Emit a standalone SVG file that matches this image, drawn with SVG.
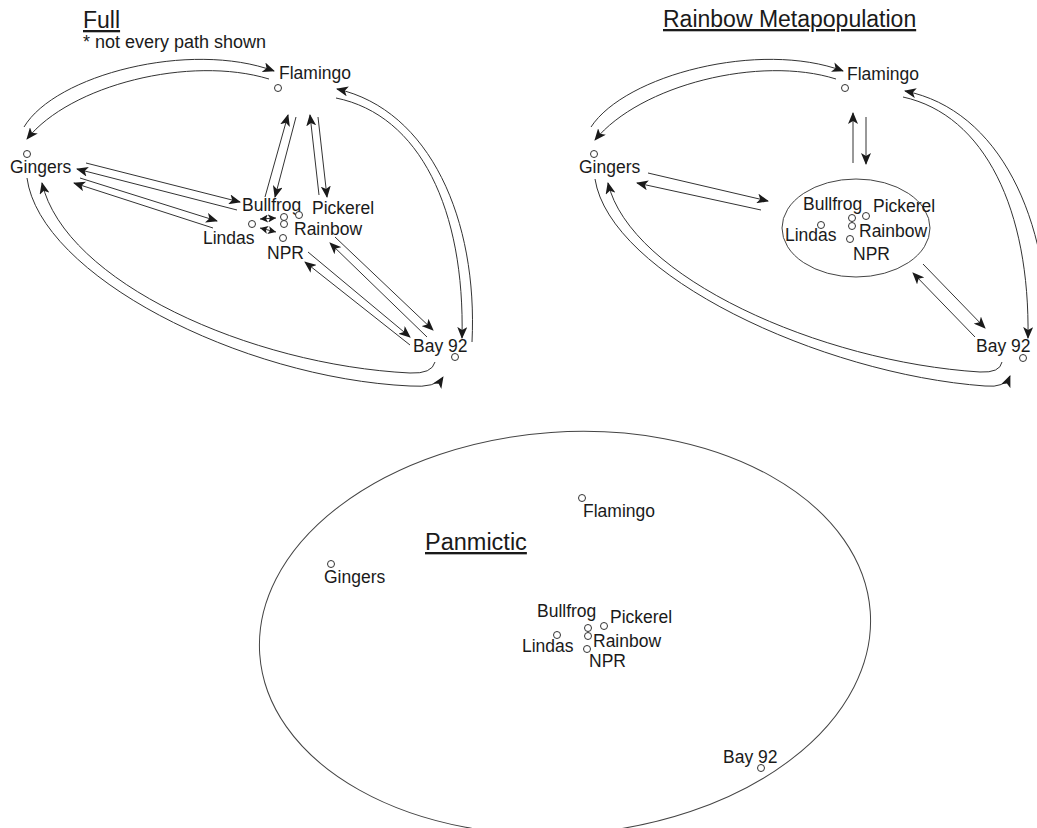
<svg xmlns="http://www.w3.org/2000/svg" width="1037" height="828" viewBox="0 0 1037 828">
<style>
  text { font-family: "Liberation Sans", Arial, sans-serif; fill: #1a1a1a; }
  .lbl { font-size: 17.5px; }
  .title { font-size: 23px; text-decoration: underline; }
  .note { font-size: 18px; }
  .pt { fill: #fff; stroke: #333; stroke-width: 1; }
  .c { fill: none; stroke: #333; stroke-width: 1; marker-end: url(#ah); }
  .s { fill: none; stroke: #333; stroke-width: 1; marker-start: url(#sm-s); marker-end: url(#sm); }
  .ring { fill: none; stroke: #444; stroke-width: 1; }
</style>
<defs>
  <marker id="ah" markerUnits="userSpaceOnUse" markerWidth="14" markerHeight="10" refX="11" refY="5" orient="auto">
    <path d="M0,0 L12,5 L0,10 L3,5 z" fill="#1a1a1a"/>
  </marker>
  <marker id="sm" markerUnits="userSpaceOnUse" markerWidth="10" markerHeight="8" refX="8" refY="4" orient="auto">
    <path d="M0,0 L8,4 L0,8 L2,4 z" fill="#1a1a1a"/>
  </marker>
  <marker id="sm-s" markerUnits="userSpaceOnUse" markerWidth="10" markerHeight="8" refX="0" refY="4" orient="auto">
    <path d="M8,0 L0,4 L8,8 L6,4 z" fill="#1a1a1a"/>
  </marker>
</defs>

<!-- ===== Full panel ===== -->
<g id="full-title">
  <text class="title" x="83" y="28">Full</text>
  <text class="note" x="83" y="48">* not every path shown</text>
</g>
<g id="connectors-full">
  <path class="c" d="M24,127 C55,75 190,40 274,71"/>
  <path class="c" d="M269,79 C190,55 70,85 27,139"/>
  <path class="c" d="M472,342 C478,220 430,110 337,89"/>
  <path class="c" d="M336,98 C420,115 465,210 462,338"/>
  <path class="c" d="M27,178 C40,275 240,378 410,386 Q436,388 443,377"/>
  <path class="c" d="M435,362 Q432,374 410,373 C250,365 65,282 42,183"/>
  <path class="c" d="M265,197 L288,115"/>
  <path class="c" d="M296,117 L275,197"/>
  <path class="c" d="M319,195 L310,115"/>
  <path class="c" d="M318,117 L327,197"/>
  <path class="c" d="M86,163 L240,202"/>
  <path class="c" d="M237,210 L77,169"/>
  <path class="c" d="M80,178 L217,221"/>
  <path class="c" d="M213,228 L74,183"/>
  <path class="c" d="M335,237 L433,330"/>
  <path class="c" d="M427,337 L330,243"/>
  <path class="c" d="M308,252 L410,337"/>
  <path class="c" d="M410,345 L305,262"/>
  <path class="s" d="M260,219 L276,218"/>
  <path class="s" d="M260,228 L276,232"/>
</g>
<g id="full-flamingo"><circle class="pt" cx="278" cy="88" r="3.5"/><text class="lbl" x="279" y="79">Flamingo</text></g>
<g id="full-gingers"><circle class="pt" cx="27" cy="154" r="3.5"/><text class="lbl" x="10" y="173">Gingers</text></g>
<g id="full-bullfrog"><circle class="pt" cx="284" cy="217" r="3.5"/><text class="lbl" x="242" y="211">Bullfrog</text></g>
<g id="full-pickerel"><circle class="pt" cx="299" cy="215" r="3.5"/><text class="lbl" x="312" y="214">Pickerel</text></g>
<g id="full-rainbow"><circle class="pt" cx="284" cy="224" r="3.5"/><text class="lbl" x="294" y="235">Rainbow</text></g>
<g id="full-lindas"><circle class="pt" cx="252" cy="224" r="3.5"/><text class="lbl" x="203" y="244">Lindas</text></g>
<g id="full-npr"><circle class="pt" cx="283" cy="238" r="3.5"/><text class="lbl" x="267" y="259">NPR</text></g>
<g id="full-bay92"><circle class="pt" cx="455" cy="357" r="3.5"/><text class="lbl" x="413" y="352">Bay 92</text></g>

<!-- ===== Rainbow Metapopulation panel ===== -->
<g id="rm-title"><text class="title" x="663" y="27">Rainbow Metapopulation</text></g>
<g id="connectors-rm">
  <path class="c" d="M591,127 C625,75 760,40 843,71"/>
  <path class="c" d="M836,79 C760,55 640,85 595,140"/>
  <path class="c" d="M1048,345 C1050,220 1000,110 905,91"/>
  <path class="c" d="M903,97 C985,115 1030,210 1028,338"/>
  <path class="c" d="M595,179 C610,275 820,374 985,386 Q1005,388 1010,376"/>
  <path class="c" d="M1002,362 Q1000,373 980,372 C820,362 630,277 608,183"/>
  <path class="c" d="M853,163 L853,113"/>
  <path class="c" d="M866,117 L866,164"/>
  <path class="c" d="M648,173 L768,201"/>
  <path class="c" d="M761,210 L637,183"/>
  <path class="c" d="M923,264 L985,328"/>
  <path class="c" d="M975,337 L913,273"/>
</g>
<g id="rm-meta"><ellipse class="ring" cx="856" cy="228" rx="74" ry="49"/></g>
<g id="rm-flamingo"><circle class="pt" cx="845" cy="88" r="3.5"/><text class="lbl" x="847" y="80">Flamingo</text></g>
<g id="rm-gingers"><circle class="pt" cx="594" cy="154" r="3.5"/><text class="lbl" x="579" y="173">Gingers</text></g>
<g id="rm-bullfrog"><circle class="pt" cx="852" cy="218" r="3.5"/><text class="lbl" x="803" y="210">Bullfrog</text></g>
<g id="rm-pickerel"><circle class="pt" cx="866" cy="216" r="3.5"/><text class="lbl" x="873" y="212">Pickerel</text></g>
<g id="rm-rainbow"><circle class="pt" cx="852" cy="226" r="3.5"/><text class="lbl" x="859" y="237">Rainbow</text></g>
<g id="rm-lindas"><circle class="pt" cx="821" cy="225" r="3.5"/><text class="lbl" x="785" y="241">Lindas</text></g>
<g id="rm-npr"><circle class="pt" cx="850" cy="239" r="3.5"/><text class="lbl" x="853" y="260">NPR</text></g>
<g id="rm-bay92"><circle class="pt" cx="1023" cy="358" r="3.5"/><text class="lbl" x="976" y="352">Bay 92</text></g>

<!-- ===== Panmictic panel ===== -->
<g id="pan-ring"><ellipse class="ring" cx="565" cy="633" rx="306" ry="201" transform="rotate(-4 565 633)"/></g>
<g id="pan-title"><text class="title" x="425" y="550" style="font-size:23.5px">Panmictic</text></g>
<g id="pan-flamingo"><circle class="pt" cx="582" cy="498" r="3.5"/><text class="lbl" x="583" y="517">Flamingo</text></g>
<g id="pan-gingers"><circle class="pt" cx="331" cy="564" r="3.5"/><text class="lbl" x="324" y="583">Gingers</text></g>
<g id="pan-bullfrog"><circle class="pt" cx="588" cy="628" r="3.5"/><text class="lbl" x="537" y="617">Bullfrog</text></g>
<g id="pan-pickerel"><circle class="pt" cx="604" cy="626" r="3.5"/><text class="lbl" x="610" y="623">Pickerel</text></g>
<g id="pan-rainbow"><circle class="pt" cx="588" cy="636" r="3.5"/><text class="lbl" x="593" y="647">Rainbow</text></g>
<g id="pan-lindas"><circle class="pt" cx="557" cy="635" r="3.5"/><text class="lbl" x="522" y="652">Lindas</text></g>
<g id="pan-npr"><circle class="pt" cx="587" cy="649" r="3.5"/><text class="lbl" x="589" y="667">NPR</text></g>
<g id="pan-bay92"><circle class="pt" cx="761" cy="768" r="3.5"/><text class="lbl" x="723" y="763">Bay 92</text></g>
</svg>
